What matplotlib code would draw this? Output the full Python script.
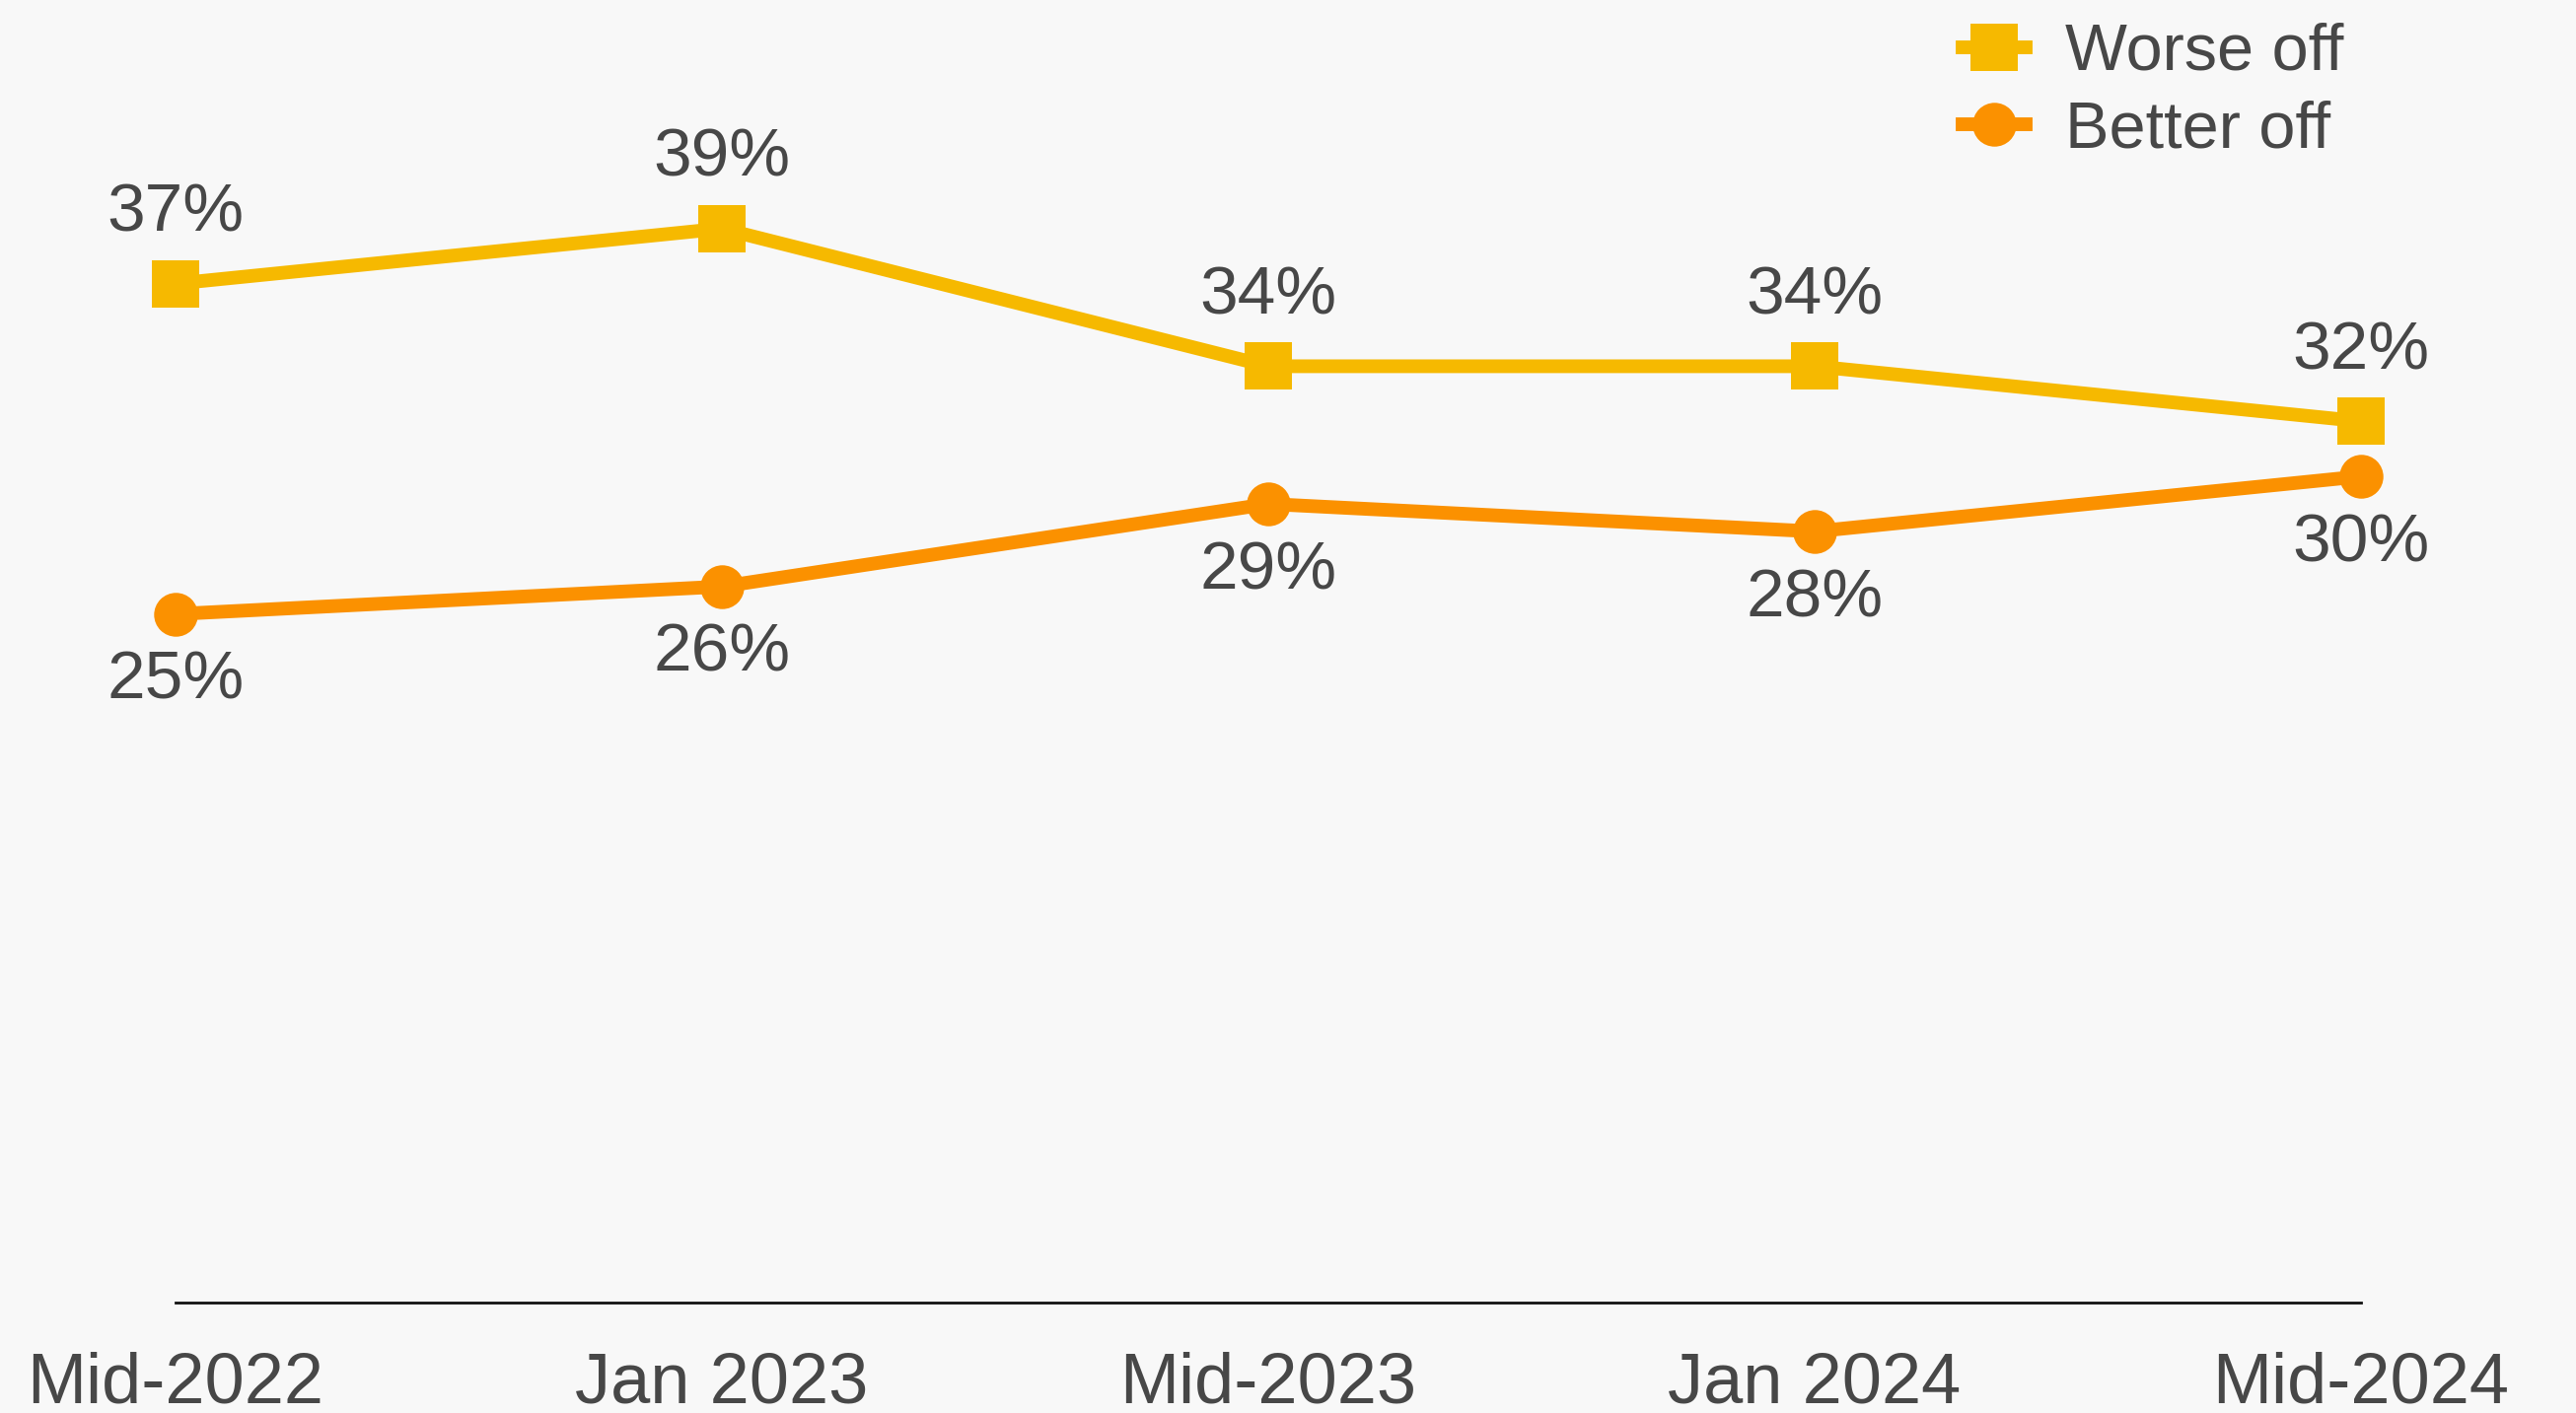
import matplotlib.pyplot as plt

plt.rcParams['font.family'] = ['Liberation Sans', 'DejaVu Sans']

periods = ['Mid-2022', 'Jan 2023', 'Mid-2023', 'Jan 2024', 'Mid-2024']
worse_off = [37, 39, 34, 34, 32]
better_off = [25, 26, 29, 28, 30]

bg = '#f8f8f8'
text_col = '#474747'
yellow = '#f6b900'
orange = '#fb9100'

fig = plt.figure(figsize=(26.12, 14.33), dpi=100, facecolor=bg)
ax = fig.add_axes([0.0681, 0.0782, 0.8484, 0.9218])
ax.set_facecolor(bg)

x = list(range(len(periods)))
ax.plot(x, worse_off, color=yellow, lw=10, marker='s', ms=34, mew=0,
        label='Worse off', clip_on=False)
ax.plot(x, better_off, color=orange, lw=10, marker='o', ms=32, mew=0,
        label='Better off', clip_on=False)

# data labels
for xi, v in zip(x, worse_off):
    ax.annotate(f'{v}%', (xi, v), xytext=(0, 51), textcoords='offset points',
                ha='center', va='center', fontsize=50, color=text_col)
for xi, v in zip(x, better_off):
    ax.annotate(f'{v}%', (xi, v), xytext=(0, -49), textcoords='offset points',
                ha='center', va='center', fontsize=50, color=text_col)

ax.set_xlim(0, 4)
ax.set_ylim(0, 47.3)
ax.set_xticks(x)
ax.set_xticklabels(periods, fontsize=52, color=text_col)
ax.tick_params(axis='x', length=0, pad=36)
ax.set_yticks([])
for s in ['left', 'right', 'top']:
    ax.spines[s].set_visible(False)
ax.spines['bottom'].set_linewidth(2)
ax.spines['bottom'].set_color('#111111')

leg = fig.legend(loc='upper left', bbox_to_anchor=(0.762, 0.984), frameon=False,
                 fontsize=48, handlelength=0.95, handletextpad=0.6,
                 labelspacing=0.25, borderpad=0, borderaxespad=0)
for t in leg.get_texts():
    t.set_color(text_col)

fig.savefig('out.png', dpi=100, facecolor=bg)
